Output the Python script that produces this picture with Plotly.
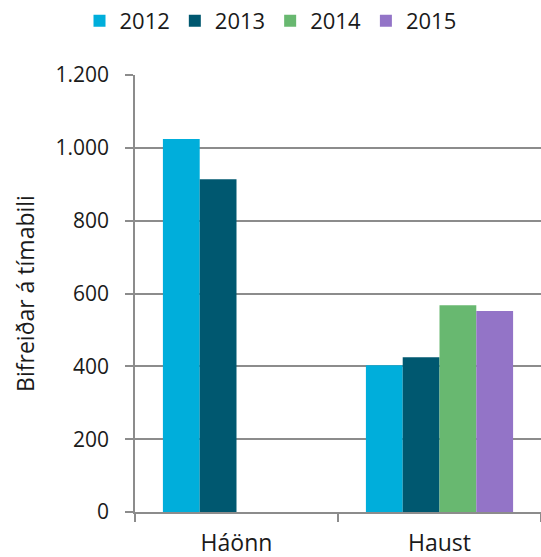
import plotly.graph_objects as go

categories = ["Háönn", "Haust"]
years = ["2012", "2013", "2014", "2015"]
values_2012 = [1024, 403]
values_2013 = [914, 425]
values_2014 = [None, 568]
values_2015 = [None, 552]
series = [values_2012, values_2013, values_2014, values_2015]
colors = ["#00AEDB", "#005870", "#68B870", "#9374C7"]

y_ticks = [0, 200, 400, 600, 800, 1000, 1200]
y_title = "Bifreiðar á tímabili"

FONT = "Open Sans"
AX = "#8c8c8c"
TXT = "#1a1a1a"

fig = go.Figure()
for name, vals, col in zip(years, series, colors):
    fig.add_trace(go.Bar(name=name, x=categories, y=vals, marker=dict(color=col, line=dict(width=0))))

fig.update_layout(
    width=541, height=557,
    margin=dict(l=135, r=0, t=75, b=45),
    paper_bgcolor="white", plot_bgcolor="white",
    barmode="group", bargap=0.275, bargroupgap=0,
    separators=",.",
    font=dict(family=FONT, color=TXT),
    legend=dict(orientation="h", xref="container", yref="container",
                x=0.5, xanchor="center", y=1 - 21 / 557, yanchor="middle",
                font=dict(size=22, family=FONT, color=TXT),
                traceorder="normal"),
    xaxis=dict(showline=True, linecolor=AX, linewidth=1.5,
               ticks="outside", tickson="boundaries", ticklen=8, tickcolor=AX, tickwidth=1.5,
               ticklabelstandoff=10,
               tickfont=dict(size=23, family=FONT, color=TXT),
               showgrid=False),
    yaxis=dict(range=[0, 1200], tickvals=y_ticks, tickformat=",d",
               showline=True, linecolor=AX, linewidth=1.5,
               ticks="outside", ticklen=8, tickcolor=AX, tickwidth=1.5,
               ticklabelstandoff=12,
               tickfont=dict(size=21, family=FONT, color=TXT),
               showgrid=True, gridcolor=AX, gridwidth=1.5, zeroline=False,
               title=dict(text=y_title, font=dict(size=23, family=FONT, color=TXT), standoff=14)),
)

fig.write_html("out.html", config={"displayModeBar": False},
               post_script="document.body.style.margin='0';document.body.style.overflow='hidden';")
